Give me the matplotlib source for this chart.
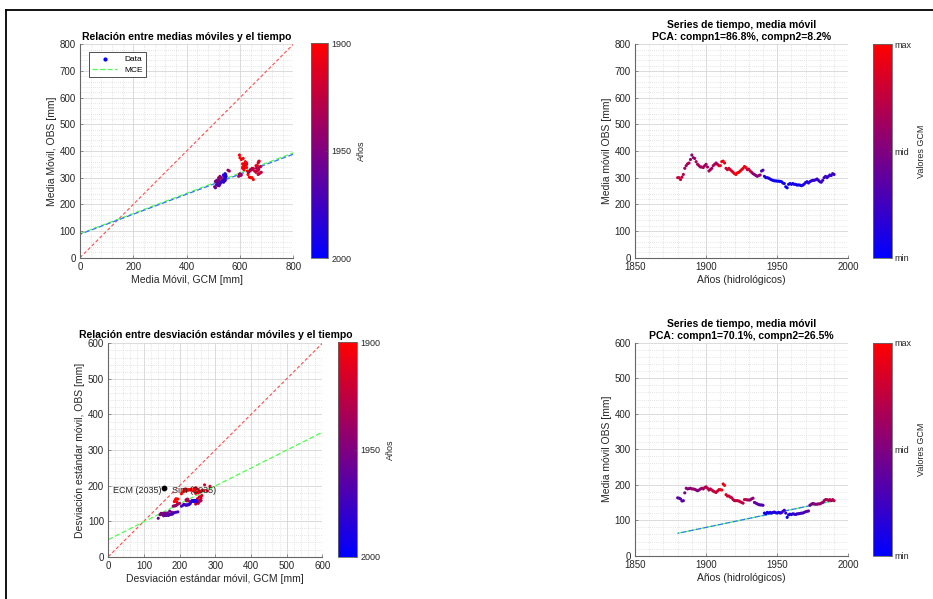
import numpy as np
import matplotlib
matplotlib.use('Agg')
import matplotlib.pyplot as plt
from matplotlib.colors import LinearSegmentedColormap, Normalize
from matplotlib.ticker import MultipleLocator
from matplotlib.lines import Line2D

plt.rcParams['font.family'] = ['Liberation Sans', 'DejaVu Sans']

# ---- data ----
years = list(range(1880, 1991))

obs_mean = [300, 300, 293, 302, 312, 335, 345, 352, 355, 368,
            385, 375, 372, 360, 350, 345, 340, 340, 338, 345,
            350, 340, 325, 330, 335, 345, 350, 355, 350, 345,
            345, 360, 362, 355, 335, 330, 335, 330, 325, 320,
            315, 312, 318, 320, 325, 330, 335, 342, 338, 330,
            332, 325, 320, 315, 312, 308, 305, 308, 310, 325,
            328, 305, 300, 300, 298, 295, 292, 290, 288, 288,
            287, 287, 286, 285, 280, 278, 266, 262, 275, 278,
            275, 278, 275, 275, 272, 273, 272, 270, 272, 276,
            282, 285, 280, 285, 288, 290, 290, 292, 295, 290,
            285, 283, 290, 300, 305, 300, 305, 310, 308, 315,
            312]

gcm_mean = [640, 645, 650, 635, 630, 615, 620, 610, 625, 605,
            598, 600, 612, 620, 618, 622, 615, 610, 625, 618,
            612, 620, 628, 615, 610, 618, 625, 620, 615, 660,
            665, 670, 672, 668, 645, 640, 650, 648, 655, 660,
            672, 668, 675, 680, 665, 670, 662, 678, 672, 640,
            645, 638, 632, 600, 598, 602, 595, 598, 605, 560,
            555, 525, 530, 520, 528, 522, 518, 515, 520, 512,
            510, 515, 508, 512, 518, 520, 505, 508, 515, 520,
            518, 522, 516, 520, 515, 512, 518, 522, 520, 525,
            528, 530, 525, 532, 535, 538, 535, 540, 542, 545,
            540, 538, 542, 545, 548, 545, 540, 538, 542, 544,
            546]

obs_std = [163, 162, 160, 154, 155, 177, 190, 188, 189, 190,
           188, 188, 187, 185, 183, 185, 188, 190, 188, 192,
           194, 190, 185, 188, 185, 182, 180, 178, 182, 186,
           186, 185, 202, 198, 172, 168, 168, 165, 163, 158,
           155, 155, 155, 154, 152, 150, 148, 158, 158, 157,
           157, 157, 160, 162, 150, 148, 146, 144, 143, 143,
           142, 120, 118, 122, 120, 122, 120, 122, 123, 121,
           120, 122, 120, 121, 125, 128, 120, 108, 115, 117,
           116, 118, 117, 116, 118, 118, 119, 120, 120, 122,
           124, 125, 126, 142, 145, 147, 146, 145, 145, 146,
           146, 148, 150, 155, 158, 158, 156, 158, 155, 158,
           155]

gcm_std = [190, 195, 188, 192, 185, 205, 215, 220, 212, 218,
           225, 230, 222, 215, 210, 218, 225, 232, 228, 240,
           245, 250, 238, 242, 255, 248, 252, 245, 258, 262,
           268, 278, 270, 285, 262, 258, 255, 260, 250, 248,
           245, 242, 250, 255, 248, 252, 245, 260, 255, 240,
           225, 220, 218, 222, 200, 195, 192, 190, 188, 185,
           182, 150, 145, 155, 148, 160, 152, 158, 165, 155,
           150, 148, 162, 168, 178, 172, 160, 140, 155, 158,
           162, 165, 160, 168, 170, 172, 175, 178, 180, 182,
           185, 190, 195, 205, 210, 212, 215, 218, 220, 222,
           225, 228, 230, 232, 235, 238, 240, 242, 238, 245,
           248]

# fitted lines (slope, intercept)
mce_mean = (0.379, 90)
reg_mean = (0.375, 88)
mce_std = (0.503, 48)
trend_std = (0.836, 63)   # intercept at 1880
ecm_point = (156, 192)

W, H = 933, 599
fig = plt.figure(figsize=(W / 100, H / 100), dpi=100)

def box(x0, y0, x1, y1):
    return [x0 / W, 1 - y1 / H, (x1 - x0) / W, (y1 - y0) / H]

cmap_year = LinearSegmentedColormap.from_list('yr', [(1, 0, 0), (0, 0, 1)])
cmap_val = LinearSegmentedColormap.from_list('val', [(0, 0, 1), (1, 0, 0)])
norm_year = Normalize(1900, 2000, clip=True)

txt = '0.15'

def style(ax, xmaj, xmin, ymaj, ymin):
    ax.xaxis.set_major_locator(MultipleLocator(xmaj))
    ax.xaxis.set_minor_locator(MultipleLocator(xmin))
    ax.yaxis.set_major_locator(MultipleLocator(ymaj))
    ax.yaxis.set_minor_locator(MultipleLocator(ymin))
    ax.grid(which='major', color='0.84', lw=0.6)
    ax.grid(which='minor', color='0.8', lw=0.5, ls=(0, (1, 2)))
    ax.set_axisbelow(True)
    for s in ['top', 'right']:
        ax.spines[s].set_visible(False)
    for s in ['left', 'bottom']:
        ax.spines[s].set_color('0.4')
        ax.spines[s].set_linewidth(0.8)
    ax.tick_params(which='major', direction='in', length=2.5, width=0.5,
                   labelsize=7, colors='0.4', labelcolor=txt, pad=3)
    ax.tick_params(which='minor', length=0)

def cbar(sc, pos, ticks, labels, label, invert):
    cax = fig.add_axes(pos)
    cb = fig.colorbar(sc, cax=cax, ticks=ticks)
    cb.set_ticklabels(labels)
    if invert:
        cax.invert_yaxis()
    cb.outline.set_edgecolor('0.4')
    cb.outline.set_linewidth(0.6)
    cax.tick_params(direction='in', length=2, width=0.5, labelsize=6.5,
                    colors='0.3', labelcolor=txt, pad=2)
    cb.set_label(label, fontsize=6.5, color=txt, labelpad=4)
    return cb

# ---- top-left ----
ax1 = fig.add_axes(box(80, 44.3, 293.3, 257.7))
style(ax1, 200, 40, 100, 20)
lim = np.array([0, 800])
ax1.plot(lim, lim, ls=(0, (3, 2)), color=(1, 0.3, 0.3), lw=0.8)
ax1.plot(lim, mce_mean[0] * lim + mce_mean[1], ls=(0, (4, 2)), color=(0.3, 1, 0.3), lw=0.9)
ax1.plot(lim, reg_mean[0] * lim + reg_mean[1], ls=(2, (4, 2)), color=(0.2, 0.45, 1), lw=0.9)
sc1 = ax1.scatter(gcm_mean, obs_mean, c=years, cmap=cmap_year, norm=norm_year,
                  s=5, linewidths=0, zorder=3)
ax1.set_xlim(0, 800)
ax1.set_ylim(0, 800)
ax1.set_xlabel('Media Móvil, GCM [mm]', fontsize=7.5, color=txt, labelpad=2)
ax1.set_ylabel('Media Móvil, OBS [mm]', fontsize=7.5, color=txt, labelpad=2)
ax1.set_title('Relación entre medias móviles y el tiempo', fontsize=7.5,
              fontweight='bold', pad=3)
hd = [Line2D([], [], ls='none', marker='.', color='b', markersize=4),
      Line2D([], [], ls=(0, (4, 2)), color=(0.3, 1, 0.3), lw=0.9)]
lg = ax1.legend(hd, ['Data', 'MCE'], loc='upper left', fontsize=6,
                bbox_to_anchor=(9 / 213, 1 - 8 / 214), borderaxespad=0,
                fancybox=False, edgecolor='0.2', framealpha=1,
                handlelength=3, borderpad=0.4, labelspacing=0.3)
lg.get_frame().set_linewidth(0.6)
cbar(sc1, box(310.7, 43.3, 328.3, 258.3), [1900, 1950, 2000],
     ['1900', '1950', '2000'], 'Años', True)

# ---- top-right ----
ax2 = fig.add_axes(box(635, 44.3, 848.3, 257.7))
style(ax2, 50, 10, 100, 20)
sc2 = ax2.scatter(years, obs_mean, c=gcm_mean, cmap=cmap_val, s=5,
                  linewidths=0, zorder=3)
ax2.set_xlim(1850, 2000)
ax2.set_ylim(0, 800)
ax2.set_xlabel('Años (hidrológicos)', fontsize=7.5, color=txt, labelpad=2)
ax2.set_ylabel('Media móvil OBS [mm]', fontsize=7.5, color=txt, labelpad=2)
ax2.set_title('Series de tiempo, media móvil\nPCA: compn1=86.8%, compn2=8.2%',
              fontsize=7.5, fontweight='bold', pad=3, linespacing=1.25)
lo, hi = min(gcm_mean), max(gcm_mean)
cbar(sc2, box(872.7, 44.3, 891.7, 257.7), [lo, (lo + hi) / 2, hi],
     ['min', 'mid', 'max'], 'Valores GCM', False)

# ---- bottom-left ----
ax3 = fig.add_axes(box(108.3, 343.3, 322.3, 556.7))
style(ax3, 100, 20, 100, 20)
lim = np.array([0, 600])
ax3.plot(lim, lim, ls=(0, (3, 2)), color=(1, 0.3, 0.3), lw=0.8)
ax3.plot(lim, mce_std[0] * lim + mce_std[1], ls=(0, (4, 2)), color=(0.3, 1, 0.3), lw=0.9)
sc3 = ax3.scatter(gcm_std, obs_std, c=years, cmap=cmap_year, norm=norm_year,
                  s=5, linewidths=0, zorder=3)
ax3.scatter([ecm_point[0]], [ecm_point[1]], s=10, color='k', zorder=4)
ax3.text(ecm_point[0] - 8, ecm_point[1] - 5, 'ECM (2035)', fontsize=6.5,
         color=txt, ha='right', va='center')
ax3.text(ecm_point[0] + 22, ecm_point[1] - 5, 'Sim (2035)', fontsize=6.5,
         color=txt, ha='left', va='center')
ax3.set_xlim(0, 600)
ax3.set_ylim(0, 600)
ax3.set_xlabel('Desviación estándar móvil, GCM [mm]', fontsize=7.5, color=txt, labelpad=2)
ax3.set_ylabel('Desviación estándar móvil, OBS [mm]', fontsize=7.5, color=txt, labelpad=2)
ax3.set_title('Relación entre desviación estándar móviles y el tiempo', fontsize=7.5,
              fontweight='bold', pad=4)
cbar(sc3, box(338.3, 342.3, 357.3, 556.7), [1900, 1950, 2000],
     ['1900', '1950', '2000'], 'Años', True)

# ---- bottom-right ----
ax4 = fig.add_axes(box(635, 342.7, 848.3, 555.7))
style(ax4, 50, 10, 100, 20)
yr = np.array([years[0], years[-1]])
tr = trend_std[1] + trend_std[0] * (yr - years[0])
ax4.plot(yr, tr, ls=(0, (4, 2)), color=(0.3, 1, 0.3), lw=0.9)
ax4.plot(yr, tr, ls=(3, (4, 2)), color=(0.2, 0.45, 1), lw=0.9)
sc4 = ax4.scatter(years, obs_std, c=gcm_std, cmap=cmap_val, s=5,
                  linewidths=0, zorder=3)
ax4.set_xlim(1850, 2000)
ax4.set_ylim(0, 600)
ax4.set_xlabel('Años (hidrológicos)', fontsize=7.5, color=txt, labelpad=2)
ax4.set_ylabel('Media móvil OBS [mm]', fontsize=7.5, color=txt, labelpad=2)
ax4.set_title('Series de tiempo, media móvil\nPCA: compn1=70.1%, compn2=26.5%',
              fontsize=7.5, fontweight='bold', pad=3, linespacing=1.25)
lo, hi = min(gcm_std), max(gcm_std)
cbar(sc4, box(872.7, 342.7, 891.7, 555.7), [lo, (lo + hi) / 2, hi],
     ['min', 'mid', 'max'], 'Valores GCM', False)

# screenshot frame
fig.add_artist(Line2D([5.5 / W, 5.5 / W], [0, 1 - 10 / H], color='k', lw=1.3))
fig.add_artist(Line2D([5.5 / W, 1], [1 - 10 / H, 1 - 10 / H], color='k', lw=1.3))

fig.savefig('out.png', dpi=100)
